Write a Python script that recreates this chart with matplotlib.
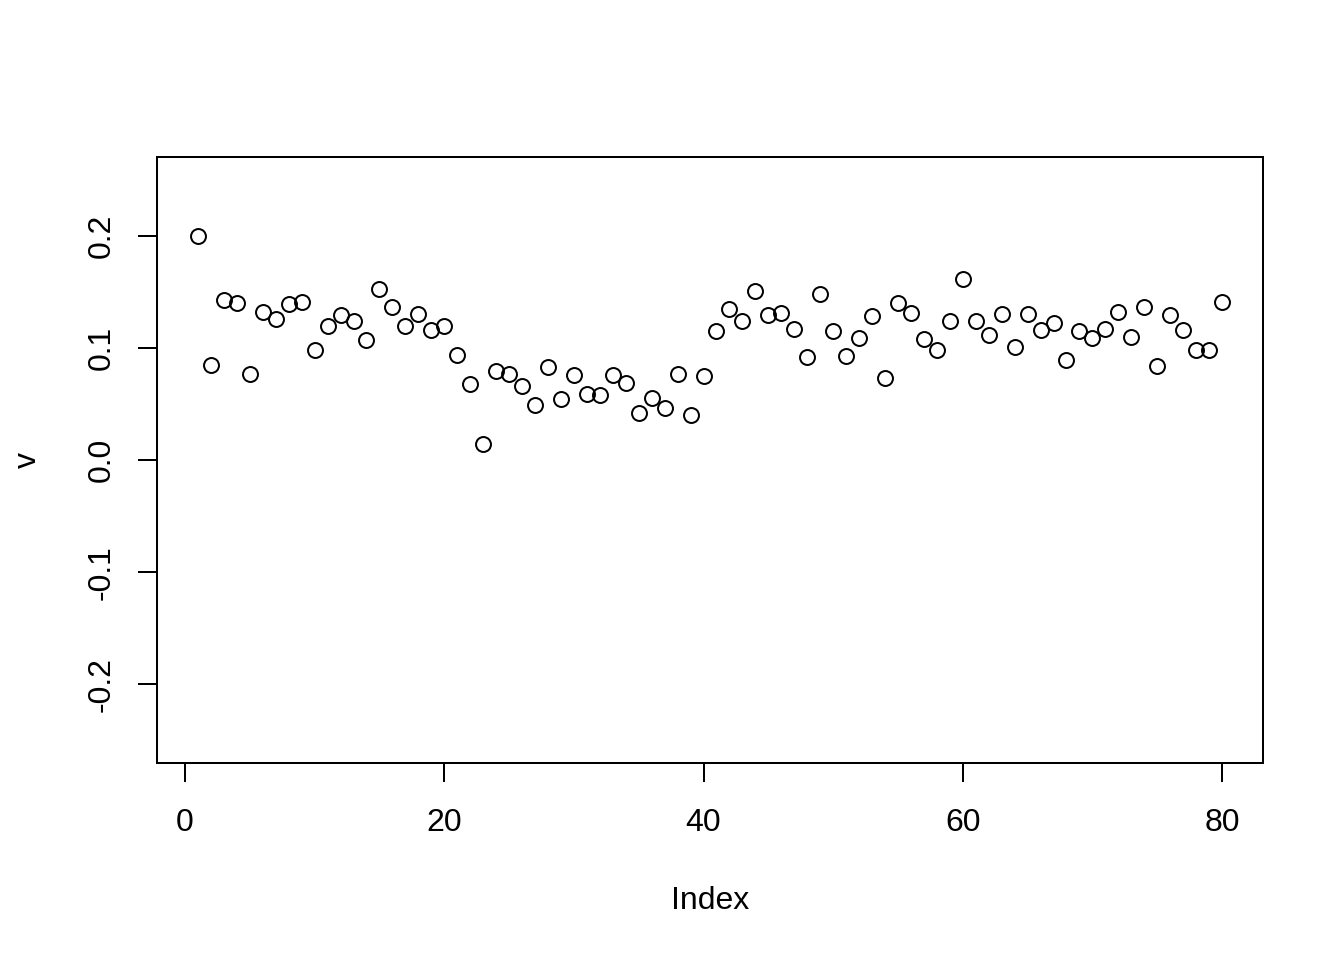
import numpy as np
import matplotlib
matplotlib.use('Agg')
import matplotlib.pyplot as plt

plt.rcParams['font.family'] = ['Liberation Sans', 'DejaVu Sans']

# 数据：v 的各个取值
v = [0.200, 0.085, 0.143, 0.140, 0.077, 0.132, 0.126, 0.139, 0.141, 0.098,
     0.119, 0.129, 0.124, 0.107, 0.152, 0.136, 0.119, 0.130, 0.116, 0.119,
     0.094, 0.068, 0.014, 0.079, 0.077, 0.066, 0.049, 0.083, 0.054, 0.076,
     0.059, 0.058, 0.076, 0.069, 0.042, 0.055, 0.046, 0.077, 0.040, 0.075,
     0.115, 0.135, 0.124, 0.151, 0.129, 0.131, 0.117, 0.092, 0.148, 0.115,
     0.093, 0.109, 0.128, 0.073, 0.140, 0.131, 0.108, 0.098, 0.124, 0.161,
     0.124, 0.111, 0.130, 0.101, 0.130, 0.116, 0.122, 0.089, 0.115, 0.109,
     0.117, 0.132, 0.110, 0.136, 0.084, 0.129, 0.116, 0.098, 0.098, 0.141]
index = np.arange(1, len(v) + 1)
xticks = [0, 20, 40, 60, 80]
yticks = [-0.2, -0.1, 0.0, 0.1, 0.2]

fig = plt.figure(figsize=(7, 5), dpi=192)
ax = fig.add_axes([157 / 1344, 1 - 763 / 960, (1263 - 157) / 1344, (763 - 157) / 960])
ax.plot(index, v, 'o', mfc='none', mec='black', ms=5.6, mew=0.75)

ax.set_xlim(1 - 0.04 * 79, 80 + 0.04 * 79)
ax.set_ylim(-0.27, 0.27)
ax.set_xticks(xticks)
ax.set_xticklabels([str(t) for t in xticks])
ax.set_yticks(yticks)
ax.set_yticklabels(['%.1f' % t for t in yticks], rotation=90, va='center')

for s in ax.spines.values():
    s.set_linewidth(0.75)
ax.tick_params(axis='both', direction='out', length=7, width=0.75, labelsize=12)
ax.tick_params(axis='x', pad=10)
ax.tick_params(axis='y', pad=8)

ax.set_xlabel('Index', fontsize=12, labelpad=18)
ax.set_ylabel('v', fontsize=12, labelpad=16.5)

fig.savefig('out.png', dpi=192)
print('done!')
